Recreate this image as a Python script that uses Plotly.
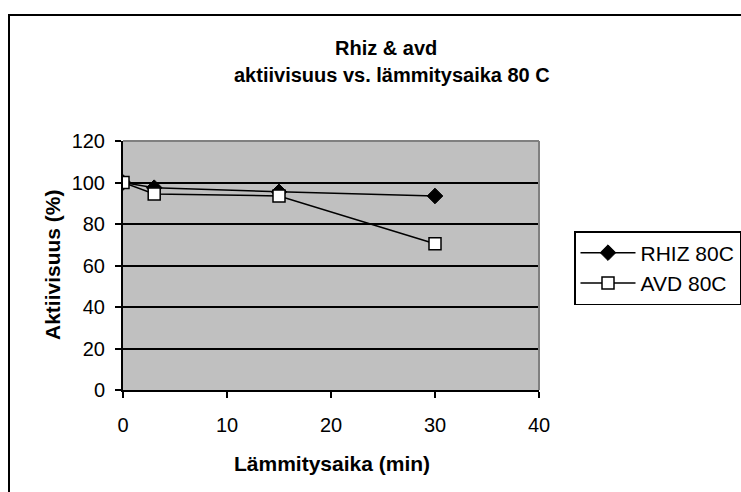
import plotly.graph_objects as go

time_min = [0, 3, 15, 30]
rhiz_80c = [100, 97.5, 95.5, 93.5]
avd_80c = [100, 94.5, 93.5, 70.5]

title_lines = ["Rhiz & avd", "aktiivisuus vs. lämmitysaika 80 C"]
x_title = "Lämmitysaika (min)"
y_title = "Aktiivisuus (%)"
x_ticks = [0, 10, 20, 30, 40]
y_ticks = [0, 20, 40, 60, 80, 100, 120]

FONT = "Liberation Sans, Arial, sans-serif"

fig = go.Figure()
fig.add_trace(go.Scatter(
    x=time_min, y=rhiz_80c, name="RHIZ 80C", mode="lines+markers",
    line=dict(color="black", width=1.5),
    marker=dict(symbol="diamond", size=12, color="black", line=dict(color="black", width=1)),
))
fig.add_trace(go.Scatter(
    x=time_min, y=avd_80c, name="AVD 80C", mode="lines+markers",
    line=dict(color="black", width=1.5),
    marker=dict(symbol="square", size=12, color="white", line=dict(color="black", width=1.5)),
))

L, R, T, B = 123, 539, 141, 390
W, H = 741, 492

def px(x):
    return (x - L) / (R - L)

def py(y):
    return (B - y) / (B - T)

fig.update_layout(
    width=W, height=H,
    margin=dict(l=L, r=W - R, t=T, b=H - B, pad=0, autoexpand=False),
    paper_bgcolor="white", plot_bgcolor="#C0C0C0",
    font=dict(family=FONT, size=20, color="black"),
    showlegend=True,
    legend=dict(
        x=px(574), y=py(231), xanchor="left", yanchor="top",
        bordercolor="black", borderwidth=1.5, bgcolor="white",
        font=dict(size=21, family=FONT), itemwidth=55, tracegroupgap=0,
    ),
    xaxis=dict(
        range=[0, 40], tickvals=x_ticks, ticks="outside", ticklen=6, tickwidth=1.5,
        tickcolor="black", showline=True, linecolor="black", linewidth=2,
        showgrid=False, zeroline=False, fixedrange=True, ticklabelstandoff=10,
        tickfont=dict(size=20, family=FONT),
    ),
    yaxis=dict(
        range=[0, 120], tickvals=y_ticks, ticks="outside", ticklen=6, tickwidth=1.5,
        tickcolor="black", showline=True, linecolor="black", linewidth=2,
        showgrid=True, gridcolor="black", gridwidth=1.5, zeroline=False, fixedrange=True,
        ticklabelstandoff=6,
        tickfont=dict(size=20, family=FONT),
    ),
    shapes=[
        dict(type="line", xref="paper", yref="paper", x0=0, x1=1, y0=1, y1=1,
             line=dict(color="#808080", width=2), layer="above"),
        dict(type="line", xref="paper", yref="paper", x0=1, x1=1, y0=0, y1=1,
             line=dict(color="#808080", width=2), layer="above"),
        dict(type="rect", xref="paper", yref="paper",
             x0=px(9), x1=3, y0=-2, y1=py(15),
             line=dict(color="black", width=2), layer="below"),
    ],
    annotations=[
        dict(text=f"<b>{title_lines[0]}</b>", xref="paper", yref="paper",
             x=px(386), y=py(48), xanchor="center", yanchor="middle",
             showarrow=False, font=dict(size=20, family=FONT)),
        dict(text=f"<b>{title_lines[1]}</b>", xref="paper", yref="paper",
             x=px(392), y=py(75), xanchor="center", yanchor="middle",
             showarrow=False, font=dict(size=20, family=FONT)),
        dict(text=f"<b>{x_title}</b>", xref="paper", yref="paper",
             x=px(332), y=py(463), xanchor="center", yanchor="middle",
             showarrow=False, font=dict(size=21, family=FONT)),
        dict(text=f"<b>{y_title}</b>", xref="paper", yref="paper",
             x=px(52), y=py(265), xanchor="center", yanchor="middle", textangle=-90,
             showarrow=False, font=dict(size=21, family=FONT)),
    ],
)

fig.write_html("out.html")
